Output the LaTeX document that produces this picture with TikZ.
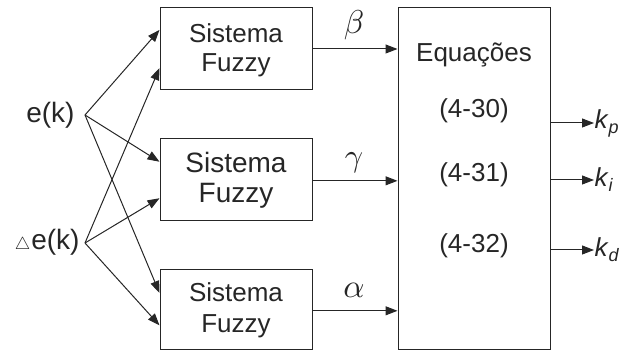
\documentclass[tikz,border=0pt]{standalone}
\usepackage{graphicx}
\usepackage{fontspec}
\setmainfont{Liberation Sans}
\usetikzlibrary{arrows.meta,calc}
\begin{document}
\begin{tikzpicture}[x=1pt,y=-1pt, line width=1pt, draw=black!85, text=black!85,
  box/.style={draw, minimum width=152pt, inner sep=0pt},
  arr/.style={-{Triangle[length=12pt,width=9pt]}},
  txt/.style={anchor=base, inner sep=0pt, font=\fontsize{26}{30}\selectfont},
  txtb/.style={anchor=base, inner sep=0pt, font=\fontsize{28}{32}\selectfont},
  grk/.style={anchor=base, inner sep=0pt, font=\fontsize{10}{10}\selectfont},
  outl/.style={anchor=west, inner sep=0pt, font=\fontsize{26}{30}\selectfont}]
\useasboundingbox (0,0) rectangle (624,352);
% boxes
\node[box, minimum height=82pt] (f1) at (236,49) {};
\node[box, minimum height=82pt] (f2) at (236,180) {};
\node[box, minimum height=80pt] (f3) at (236,310) {};
\node[box, minimum height=342pt] (eq) at (474,179) {};
% box texts
\node[txt] (f1a) at (236,43) {Sistema};
\node[txt] (f1b) at (236,72) {Fuzzy};
\node[txtb] (f2a) at (236,173) {Sistema};
\node[txtb] (f2b) at (236,203) {Fuzzy};
\node[txt] (f3a) at (236,302) {Sistema};
\node[txt] (f3b) at (236,333) {Fuzzy};
\node[txt] (eqa) at (474,62) {Equações};
\node[txt] (eqb) at (474,118) {(4-30)};
\node[txt] (eqc) at (474,182) {(4-31)};
\node[txt] (eqd) at (474,253) {(4-32)};
% inputs
\node[anchor=base east, inner sep=0pt, font=\fontsize{28}{32}\selectfont] (e) at (75,123) {e(k)};
\node[anchor=base east, inner sep=0pt, font=\fontsize{28}{32}\selectfont] (de) at (80,250) {\scalebox{0.7}{$\triangle$}\kern1pt e(k)};
\coordinate (eo) at (85,115);
\coordinate (deo) at (85,243);
\draw[arr] (eo) -- ($(f1.north west)!0.27!(f1.south west)$);
\draw[arr] (eo) -- ($(f2.north west)!0.28!(f2.south west)$);
\draw[arr] (eo) -- ($(f3.north west)!0.29!(f3.south west)$);
\draw[arr] (deo) -- ($(f1.north west)!0.73!(f1.south west)$);
\draw[arr] (deo) -- ($(f2.north west)!0.72!(f2.south west)$);
\draw[arr] (deo) -- ($(f3.north west)!0.69!(f3.south west)$);
% fuzzy to equations
\coordinate (o1) at ($(f1.north east)!0.5!(f1.south east)$);
\coordinate (o2) at ($(f2.north east)!0.51!(f2.south east)$);
\coordinate (o3) at ($(f3.north east)!0.51!(f3.south east)$);
\draw[arr] (o1) -- (o1 -| eq.west);
\draw[arr] (o2) -- (o2 -| eq.west);
\draw[arr] (o3) -- (o3 -| eq.west);
\node[grk] (b) at (354,34) {\scalebox{3.3}{$\beta$}};
\node[grk] (g) at (354,167) {\scalebox{3.2}{$\gamma$}};
\node[grk] (a) at (354,298) {\scalebox{3.3}{$\alpha$}};
% outputs
\node[outl] (kp) at (594,123) {\textit{k}\raisebox{-5pt}{\fontsize{18}{18}\selectfont\textit{p}}};
\node[outl] (ki) at (594,180) {\textit{k}\raisebox{-5pt}{\fontsize{18}{18}\selectfont\textit{i}}};
\node[outl] (kd) at (594,250) {\textit{k}\raisebox{-5pt}{\fontsize{18}{18}\selectfont\textit{d}}};
\draw[arr] (eq.east |- kp.west) -- (kp.west);
\draw[arr] (eq.east |- ki.west) -- (ki.west);
\draw[arr] (eq.east |- kd.west) -- (kd.west);
\end{tikzpicture}
\end{document}
